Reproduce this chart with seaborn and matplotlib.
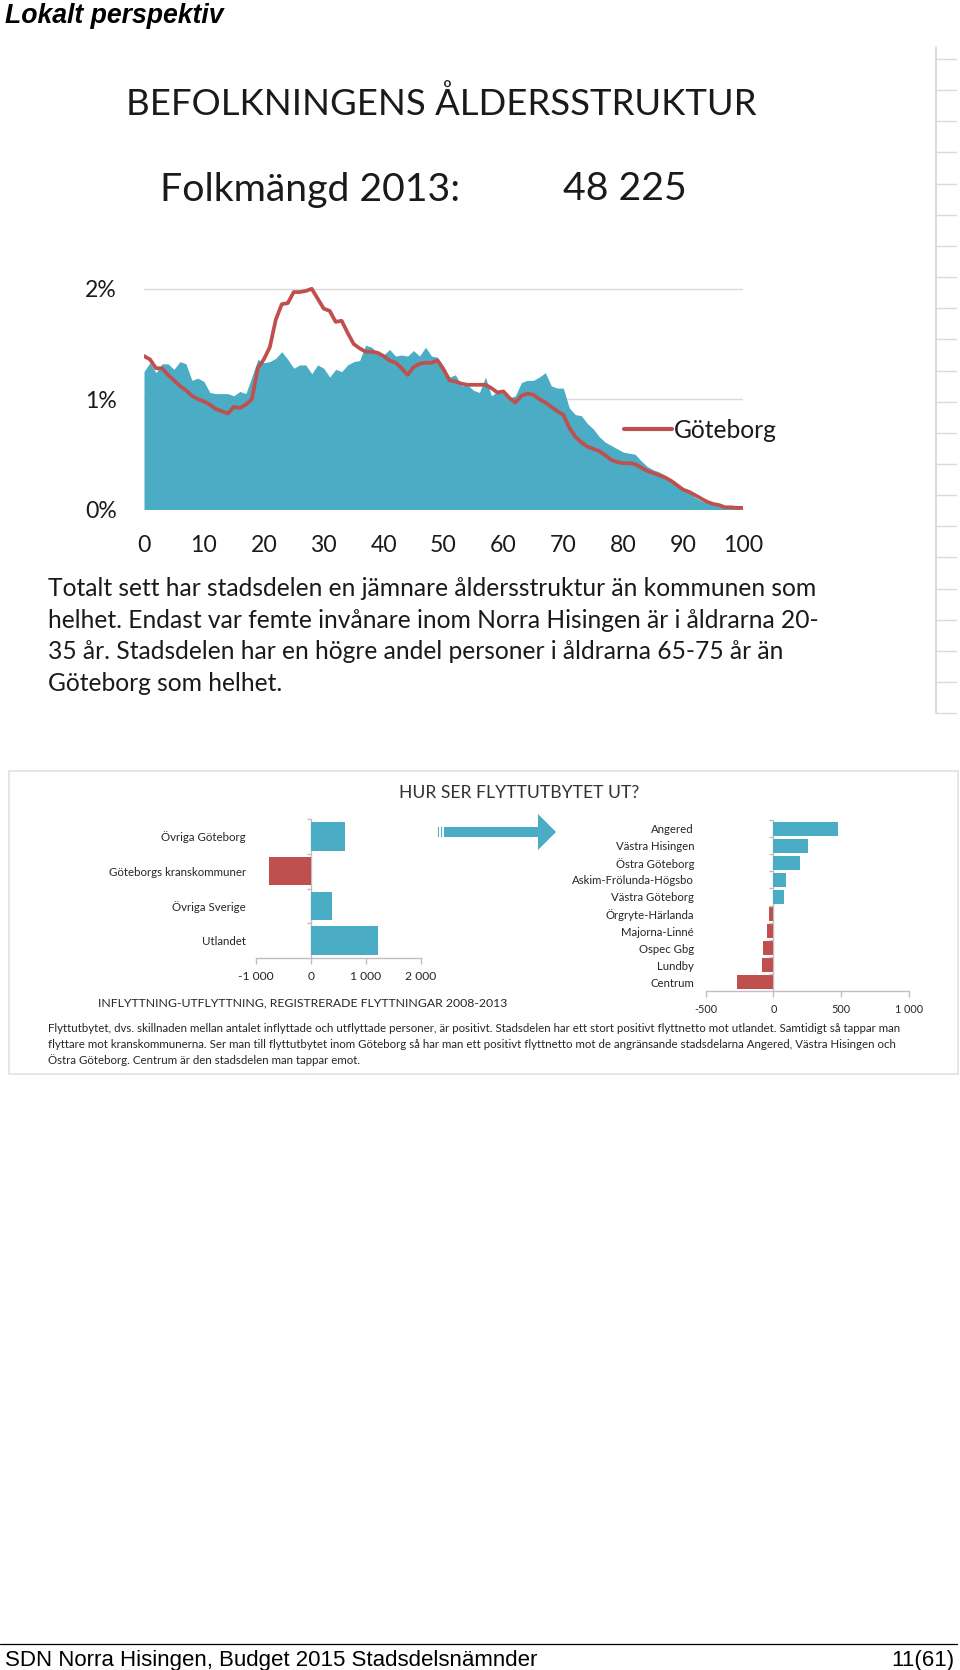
import matplotlib
matplotlib.use("Agg")
import matplotlib.pyplot as plt
import seaborn as sns
from matplotlib.font_manager import FontProperties
from matplotlib.lines import Line2D
from matplotlib.patches import Rectangle, Polygon

# ---------------- data ----------------
ages = list(range(0, 101))
norra_hisingen = [1.25, 1.33, 1.24, 1.32, 1.32, 1.27, 1.34, 1.32, 1.17, 1.19,
                  1.16, 1.06, 1.05, 1.05, 1.05, 1.03, 1.07, 1.05, 1.20, 1.36,
                  1.33, 1.34, 1.37, 1.43, 1.36, 1.28, 1.31, 1.31, 1.23, 1.31,
                  1.28, 1.20, 1.27, 1.25, 1.31, 1.34, 1.35, 1.49, 1.47, 1.42,
                  1.40, 1.45, 1.39, 1.40, 1.39, 1.44, 1.39, 1.47, 1.39, 1.38,
                  1.30, 1.20, 1.22, 1.12, 1.13, 1.08, 1.06, 1.20, 1.03, 1.07,
                  1.05, 1.01, 1.03, 1.15, 1.17, 1.17, 1.20, 1.24, 1.12, 1.10,
                  1.10, 0.92, 0.86, 0.85, 0.78, 0.73, 0.66, 0.61, 0.58, 0.55,
                  0.52, 0.51, 0.50, 0.44, 0.39, 0.36, 0.34, 0.31, 0.27, 0.23,
                  0.19, 0.15, 0.11, 0.08, 0.06, 0.04, 0.03, 0.02, 0.015, 0.01,
                  0.005]
goteborg = [1.39, 1.36, 1.28, 1.28, 1.22, 1.17, 1.12, 1.08, 1.03, 1.00,
            0.98, 0.95, 0.91, 0.89, 0.87, 0.93, 0.92, 0.95, 1.00, 1.28,
            1.36, 1.47, 1.72, 1.86, 1.87, 1.97, 1.97, 1.98, 2.00, 1.91,
            1.82, 1.80, 1.70, 1.71, 1.60, 1.50, 1.46, 1.43, 1.43, 1.42,
            1.39, 1.35, 1.33, 1.28, 1.22, 1.29, 1.32, 1.33, 1.33, 1.35,
            1.27, 1.17, 1.16, 1.14, 1.13, 1.13, 1.13, 1.13, 1.10, 1.06,
            1.07, 1.01, 0.97, 1.03, 1.05, 1.04, 1.00, 0.97, 0.93, 0.89,
            0.86, 0.74, 0.66, 0.61, 0.57, 0.55, 0.53, 0.49, 0.45, 0.43,
            0.42, 0.42, 0.41, 0.38, 0.35, 0.33, 0.31, 0.29, 0.26, 0.22,
            0.18, 0.16, 0.13, 0.10, 0.07, 0.05, 0.04, 0.02, 0.02, 0.015,
            0.015]
line_label = "Göteborg"
age_ticks = [0, 10, 20, 30, 40, 50, 60, 70, 80, 90, 100]
pct_ticks = [0, 1, 2]
pct_labels = ["0%", "1%", "2%"]

origin_cats = ["Övriga Göteborg", "Göteborgs kranskommuner", "Övriga Sverige", "Utlandet"]
origin_net = [620, -770, 380, 1220]
origin_ticks = [-1000, 0, 1000, 2000]
origin_tick_labels = ["-1 000", "0", "1 000", "2 000"]

district_cats = ["Angered", "Västra Hisingen", "Östra Göteborg", "Askim-Frölunda-Högsbo",
                 "Västra Göteborg", "Örgryte-Härlanda", "Majorna-Linné", "Ospec Gbg",
                 "Lundby", "Centrum"]
district_net = [474, 255, 197, 95, 80, -30, -45, -73, -85, -270]
district_ticks = [-500, 0, 500, 1000]
district_tick_labels = ["-500", "0", "500", "1 000"]

page_header = "Lokalt perspektiv"
title = "BEFOLKNINGENS ÅLDERSSTRUKTUR"
pop_label = "Folkmängd 2013:"
pop_value = "48 225"
paragraph = ["Totalt sett har stadsdelen en jämnare åldersstruktur än kommunen som",
             "helhet. Endast var femte invånare inom Norra Hisingen är i åldrarna 20-",
             "35 år. Stadsdelen har en högre andel personer i åldrarna 65-75 år än",
             "Göteborg som helhet."]
panel_title = "HUR SER FLYTTUTBYTET UT?"
panel_caption = "INFLYTTNING-UTFLYTTNING, REGISTRERADE FLYTTNINGAR 2008-2013"
panel_text = ["Flyttutbytet, dvs. skillnaden mellan antalet inflyttade och utflyttade personer, är positivt. Stadsdelen har ett stort positivt flyttnetto mot utlandet. Samtidigt så tappar man",
              "flyttare mot kranskommunerna. Ser man till flyttutbytet inom Göteborg så har man ett positivt flyttnetto mot de angränsande stadsdelarna Angered, Västra Hisingen och",
              "Östra Göteborg. Centrum är den stadsdelen man tappar emot."]
footer_left = "SDN Norra Hisingen, Budget 2015 Stadsdelsnämnder"
footer_right = "11(61)"

# ---------------- style ----------------
TEAL = "#4BACC6"
RED = "#C0504D"
GREY = "#bfbfbf"
DARK = "#1a1a1a"
sns.set_theme(style="white")
plt.rcParams["font.family"] = ["Lato", "DejaVu Sans"]

W, H = 960, 1670
fig = plt.figure(figsize=(W / 100, H / 100), dpi=100)
fig.patch.set_facecolor("white")
renderer = fig.canvas.get_renderer()


def fit(s, width, family="Lato", **kw):
    prop = FontProperties(family=[family, "DejaVu Sans"], size=10, **kw)
    w, _, _ = renderer.get_text_width_height_descent(s, prop, ismath=False)
    return 10.0 * width / w


def text_h(s, size, family="Lato"):
    prop = FontProperties(family=[family, "DejaVu Sans"], size=size)
    _, h, _ = renderer.get_text_width_height_descent(s, prop, ismath=False)
    return h


def ftext(x, y, s, size, family="Lato", ha="left", va="center_baseline", color=DARK, **kw):
    return fig.text(x / W, 1 - y / H, s, fontsize=size, family=[family, "DejaVu Sans"],
                    ha=ha, va=va, color=color, **kw)


def rect(left, top, right, bottom):
    return [left / W, 1 - bottom / H, (right - left) / W, (bottom - top) / H]


def fpt(x, y):
    return (x / W, 1 - y / H)


# ---------------- page header / footer ----------------
ftext(5, 13, page_header, fit(page_header, 220, "Liberation Sans", weight="bold", style="italic"),
      family="Liberation Sans", weight="bold", style="italic", color="black")
fig.add_artist(Line2D([0, 957 / W], [1 - 1644 / H] * 2, color="black", lw=0.9))
fs_foot = fit(footer_left, 534, "Liberation Sans")
ftext(5, 1658, footer_left, fs_foot, family="Liberation Sans", color="black")
ftext(954, 1658, footer_right, fs_foot, family="Liberation Sans", ha="right", color="black")

# right-edge decoration
fig.add_artist(Line2D([936 / W] * 2, [1 - 47 / H, 1 - 713 / H], color="#d4d4d4", lw=1.2))
for i in range(22):
    yy = 59 + i * 31.15
    fig.add_artist(Line2D([936 / W, 956 / W], [1 - yy / H] * 2, color="#dadada", lw=1))

# ---------------- top block texts ----------------
ftext(126, 100.5, title, fit(title, 624))
fs_pop = fit(pop_label, 301)
ftext(160, 186, pop_label, fs_pop)
ftext(563, 186, pop_value, fs_pop)

fs_par = fit(paragraph[0], 768)
for i, line in enumerate(paragraph):
    ftext(48, 586.5 + i * 31.7, line, fs_par)

# ---------------- age structure chart ----------------
ax = fig.add_axes(rect(144, 266.7, 743, 509.5))
ax.fill_between(ages, norra_hisingen, 0, color=TEAL, lw=0, zorder=2)
sns.lineplot(x=ages, y=goteborg, color=RED, lw=2.7, ax=ax, zorder=3)
ax.set_xlim(0, 100)
ax.set_ylim(0, 2.2)
ax.set_yticks(pct_ticks, pct_labels)
ax.set_xticks(age_ticks)
ax.grid(axis="y", color="#d9d9d9", lw=1)
ax.grid(axis="x", visible=False)
ax.set_axisbelow(True)
for sp in ax.spines.values():
    sp.set_visible(False)
fs_tick = fit("100", 40)
h_tick = text_h("100", fs_tick)
ax.tick_params(length=0, labelsize=fs_tick, labelcolor=DARK)
ax.tick_params(axis="y", pad=27 * 0.72)
ax.tick_params(axis="x", pad=max(0, (543 - 509.5 - h_tick / 2)) * 0.72)
ax.set_xlabel("")
ax.set_ylabel("")
ax.patch.set_alpha(0)

# manual legend
fig.add_artist(Line2D([624 / W, 672 / W], [1 - 429 / H] * 2, color=RED, lw=3))
ftext(674, 428, line_label, fit(line_label, 104))

# ---------------- bottom panel ----------------
fig.add_artist(Rectangle(fpt(9, 1074), (958 - 9) / W, (1074 - 771) / H, transform=fig.transFigure,
                         fill=False, edgecolor="#e2e2e2", lw=1.2, zorder=0))
ftext(399, 791, panel_title, fit(panel_title, 237), color="#333333")
ftext(98, 1002, panel_caption, fit(panel_caption, 409), color="#262626")
fs_ptxt = fit(panel_text[0], 853)
for i, line in enumerate(panel_text):
    ftext(48, 1028 + i * 15.5, line, fs_ptxt, color="#262626")

# arrow
arrow_pts = [(444, 827), (538, 827), (538, 814), (556, 832), (538, 850), (538, 837), (444, 837)]
fig.add_artist(Polygon([fpt(*p) for p in arrow_pts], closed=True, transform=fig.transFigure,
                       facecolor=TEAL, edgecolor="none"))
for x0 in (437.5, 440.5):
    fig.add_artist(Rectangle(fpt(x0, 837), 1.6 / W, 10 / H, transform=fig.transFigure,
                             facecolor=TEAL, edgecolor="none"))


def bar_panel(box, cats, vals, lims, ticks, tick_labels, label_ref, label_w, tick_ref, tick_w,
              lab_pad, tick_gap):
    a = fig.add_axes(rect(*box))
    pal = {c: (TEAL if v > 0 else RED) for c, v in zip(cats, vals)}
    sns.barplot(x=vals, y=cats, hue=cats, palette=pal, legend=False, saturation=1,
                width=0.82, orient="h", ax=a, edgecolor="none")
    for k in ("top", "right", "left"):
        a.spines[k].set_visible(False)
    a.spines["bottom"].set_color(GREY)
    a.spines["bottom"].set_linewidth(1)
    a.axvline(0, color=GREY, lw=1, zorder=0.5)
    px_unit = (lims[1] - lims[0]) / (box[2] - box[0])
    a.hlines([i - 0.5 for i in range(len(cats))], -4 * px_unit, 0, color=GREY, lw=1, clip_on=False)
    a.set_xlim(*lims)
    a.set_ylim(len(cats) - 0.5, -0.5)
    a.set_xticks(ticks, tick_labels)
    fs_lab = fit(label_ref, label_w)
    fs_t = fit(tick_ref, tick_w)
    h_t = text_h("0", fs_t)
    a.tick_params(axis="y", length=0, pad=lab_pad * 0.72, labelsize=fs_lab, labelcolor="#262626")
    a.tick_params(axis="x", length=4, width=1, color=GREY, direction="out", labelsize=fs_t,
                  labelcolor="#262626", bottom=True, pad=max(0, tick_gap - 4 - h_t / 2) * 0.72)
    a.set_xlabel("")
    a.set_ylabel("")
    a.patch.set_alpha(0)
    return a


bar_panel((256, 819, 421, 958), origin_cats, origin_net, (-1000, 2000), origin_ticks,
          origin_tick_labels, "Göteborgs kranskommuner", 138, "2 000", 31, 10, 15)
bar_panel((705.5, 820, 909, 991), district_cats, district_net, (-500, 1000), district_ticks,
          district_tick_labels, "Askim-Frölunda-Högsbo", 122, "1 000", 28, 11.5, 15)

fig.savefig("out.png", dpi=100)
